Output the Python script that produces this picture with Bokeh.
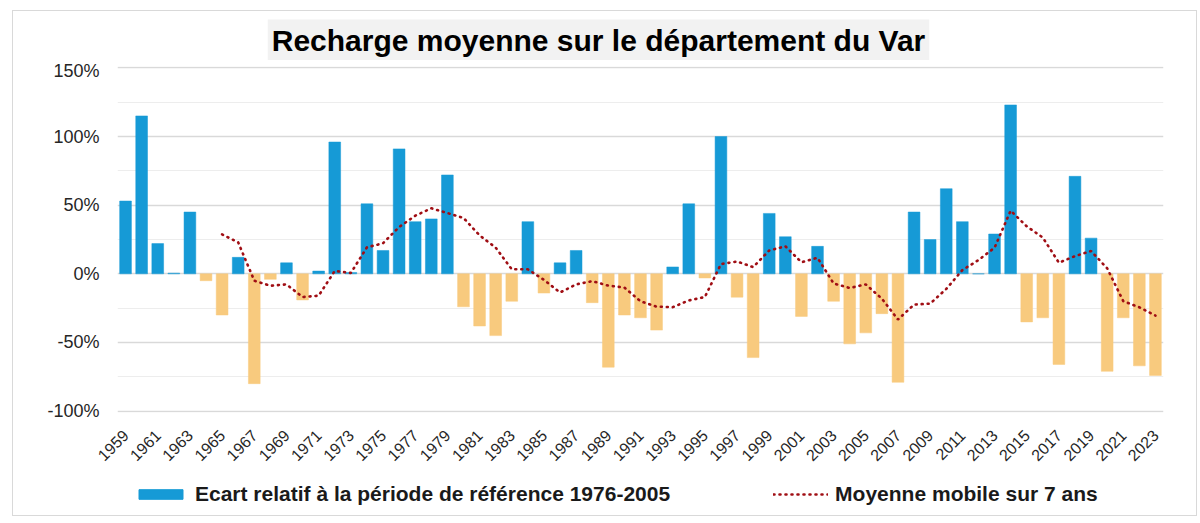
from bokeh.plotting import figure
from bokeh.layouts import column
from bokeh.models import ColumnDataSource, FixedTicker, Legend, LegendItem, Label
from bokeh.embed import file_html
from bokeh.resources import INLINE

# ---------------- data ----------------
years = list(range(1959, 2024))
ecart = [53, 115, 22, 0.5, 45, -5, -30, 12, -80, -4,
         8, -19, 2, 96, 1, 51, 17, 91, 38, 40,
         72, -24, -38, -45, -20, 38, -14, 8, 17, -21,
         -68, -30, -32, -41, 5, 51, -3, 100, -17, -61,
         44, 27, -31, 20, -20, -51, -43, -29, -79, 45,
         25, 62, 38, 0, 29, 123, -35, -32, -66, 71,
         26, -71, -32, -67, -74]

ma_years = list(range(1965, 2024))
moyenne = [28.7, 22.9, -5.0, -8.7, -7.7, -16.9, -15.9, 2.1, 0.6, 19.3,
           22.3, 34.1, 42.3, 47.7, 44.3, 40.7, 28.0, 19.1, 3.3, 3.3,
           -4.4, -13.6, -7.7, -5.3, -8.6, -10.0, -20.0, -23.9, -24.3, -19.4,
           -16.9, 7.1, 9.0, 4.9, 17.0, 20.1, 8.4, 11.7, -7.0, -10.3,
           -7.7, -18.1, -33.3, -22.4, -21.7, -11.0, 2.7, 10.0, 19.0, 46.0,
           34.6, 26.4, 8.1, 12.9, 16.6, 4.0, -19.9, -24.4, -30.4]

y_ticks = [-100, -50, 0, 50, 100, 150]
y_minor = [-75, -25, 25, 75, 125]
x_ticks = list(range(1959, 2024, 2))

title_text = "Recharge moyenne sur le département du Var"
bar_label = "Ecart relatif à la période de référence 1976-2005"
line_label = "Moyenne mobile sur 7 ans"

BLUE = "#169AD6"
ORANGE = "#F8CA7E"
RED = "#A00E14"
FONT = "Liberation Sans"

colors = [BLUE if v >= 0 else ORANGE for v in ecart]
src = ColumnDataSource(dict(x=years, top=ecart, color=colors))


def blank(fig):
    fig.outline_line_color = None
    fig.xgrid.grid_line_color = None
    fig.ygrid.grid_line_color = None


# ---------------- title strip ----------------
tf = figure(width=1183, height=49, output_backend="svg", toolbar_location=None,
            x_axis_type=None, y_axis_type=None, x_range=(0, 1), y_range=(0, 1),
            min_border=0, background_fill_color="white", border_fill_color="white")
blank(tf)
tf.add_layout(Label(x=481, y=20.5, x_units="screen", y_units="screen",
                    text=title_text, text_align="center", text_baseline="middle",
                    text_font=FONT, text_font_style="bold", text_font_size="30px",
                    text_color="black", background_fill_color="#F2F2F2",
                    padding=4))

# ---------------- main chart ----------------
p = figure(width=1183, height=409, output_backend="svg", toolbar_location=None,
           x_range=(1958.5, 2023.5), y_range=(-101, 151),
           min_border_left=104, min_border_right=33,
           min_border_top=6, min_border_bottom=55,
           background_fill_color="white", border_fill_color="white")
p.outline_line_color = None

p.vbar(x="x", top="top", bottom=0, width=0.73, fill_color="color",
       line_color="color", line_width=0.5, source=src)
p.line(ma_years, moyenne, line_color=RED, line_width=2.6,
       line_dash="1 5", line_cap="round")

p.yaxis.ticker = FixedTicker(ticks=y_ticks, minor_ticks=y_minor)
p.yaxis.major_label_overrides = {t: f"{t}%" for t in y_ticks}
p.yaxis.axis_line_color = None
p.yaxis.major_tick_line_color = None
p.yaxis.minor_tick_line_color = None
p.yaxis.major_label_standoff = 12
p.yaxis.major_label_text_font = FONT
p.yaxis.major_label_text_font_size = "18px"
p.yaxis.major_label_text_color = "#262626"

p.xaxis.ticker = FixedTicker(ticks=x_ticks)
p.xaxis.axis_line_color = None
p.xaxis.major_tick_line_color = None
p.xaxis.minor_tick_line_color = None
p.xaxis.major_label_orientation = 0.785398
p.xaxis.major_label_standoff = 14
p.xaxis.major_label_text_font = FONT
p.xaxis.major_label_text_font_size = "16px"
p.xaxis.major_label_text_color = "#262626"

p.xgrid.grid_line_color = None
p.ygrid.grid_line_color = "#D9D9D9"
p.ygrid.grid_line_width = 1.3
p.ygrid.minor_grid_line_color = "#EDEDED"
p.ygrid.minor_grid_line_width = 1.2

# ---------------- legend strip ----------------
# same x range as the chart; y range above every value so the proxies stay hidden
pl = figure(width=1183, height=46, output_backend="svg", toolbar_location=None,
            x_axis_type=None, y_axis_type=None,
            x_range=(1958.5, 2023.5), y_range=(200, 300),
            min_border=0, background_fill_color="white", border_fill_color="white")
blank(pl)
bar_proxy = pl.vbar(x="x", top="top", width=0.73, fill_color=BLUE,
                    line_color=BLUE, source=src)
line_proxy = pl.line(ma_years, moyenne, line_color=RED, line_width=2.6,
                     line_dash="1 5", line_cap="round")
leg = Legend(items=[LegendItem(label=bar_label, renderers=[bar_proxy]),
                    LegendItem(label=line_label, renderers=[line_proxy])],
             location=(16, 9), orientation="horizontal",
             glyph_width=55, glyph_height=12, label_standoff=7, spacing=103,
             padding=0, margin=0, border_line_color=None,
             background_fill_alpha=0,
             label_text_font=FONT, label_text_font_style="bold",
             label_text_font_size="21px", label_text_color="#1a1a1a")
pl.add_layout(leg)

layout = column(tf, p, pl, spacing=0, margin=(10, 0, 0, 12),
                styles={"border": "1.5px solid #D9D9D9"})

open("out.html", "w").write(file_html(layout, INLINE))
